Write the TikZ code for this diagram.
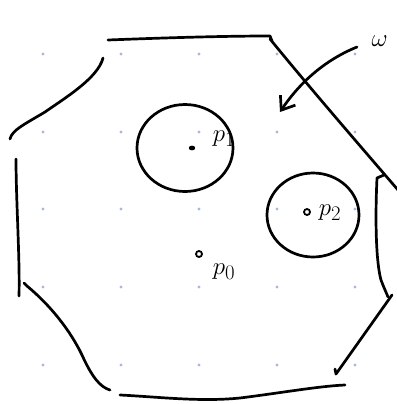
\documentclass[tikz,border=0pt]{standalone}
\usepackage{amsmath,amssymb}
\usepackage{xcolor}
\usetikzlibrary{arrows.meta, positioning, shapes.geometric}
\definecolor{griddot}{HTML}{A9B8D6}

\begin{document}
\begin{tikzpicture}[x=1pt, y=-1pt,
  pen/.style={line width=2.7pt, line cap=round, line join=round},
  hole/.style={draw, ellipse, line width=2.7pt, inner sep=0pt},
  pt/.style={circle, draw, line width=1.8pt, minimum size=6pt, inner sep=0pt},
  lbl/.style={font=\fontsize{30}{30}\selectfont},
  arr/.style={pen, -{Straight Barb[length=12pt, width=18pt, line width=2.7pt]}}
]
  \useasboundingbox (0,0) rectangle (396,404);
  \foreach \x in {43,121,199,277,355}
    \foreach \y in {54,132,209,287,365}
      \fill[griddot] (\x,\y) circle (1.7pt);

  \draw[pen] (108,40) .. controls (160,38) and (220,36) .. (270,36) -- (272,41);
  \draw[pen] (270,39) .. controls (310,88) and (355,140) .. (398,190);
  \draw[pen] (103,58) .. controls (98,78) and (65,98) .. (45,112) .. controls (25,124) and (12,130) .. (10,139);
  \draw[pen] (16,159) .. controls (16,200) and (20,260) .. (19,296);
  \draw[pen] (24,283) -- (27,286) .. controls (50,305) and (70,330) .. (82,355) .. controls (92,377) and (100,387) .. (110,390);
  \draw[pen] (120,395) .. controls (160,397) and (200,402) .. (240,398) .. controls (280,393) and (320,386) .. (345,385);
  \draw[pen] (392,295) -- (336,374) -- (335,369);
  \draw[pen] (384,175) -- (377,178) .. controls (375,220) and (376,262) .. (381,280) .. controls (384,288) and (386,292) .. (388,297);

  \node[hole, minimum width=96pt, minimum height=87pt] (hole1) at (185,148) {};
  \node[hole, minimum width=92pt, minimum height=84pt] (hole2) at (313,215) {};

  \fill (192,148) ellipse (3.2pt and 2.4pt);
  \node[inner sep=0pt] (p1) at (192,148) {};
  \node[pt] (p2) at (307,212) {};
  \node[pt] (p0) at (199,254) {};
  \node[lbl] (lp1) at (224,139) {$p_1$};
  \node[lbl] (lp2) at (330,213) {$p_2$};
  \node[lbl] (lp0) at (224,272) {$p_0$};

  \node[lbl, anchor=west] (omega) at (368,41) {$\omega$};
  \coordinate (wtail) at (357,47);
  \coordinate (whead) at (280,112);
  \draw[arr] (wtail) .. controls (320,62) and (296,88) .. (whead);
\end{tikzpicture}
\end{document}
